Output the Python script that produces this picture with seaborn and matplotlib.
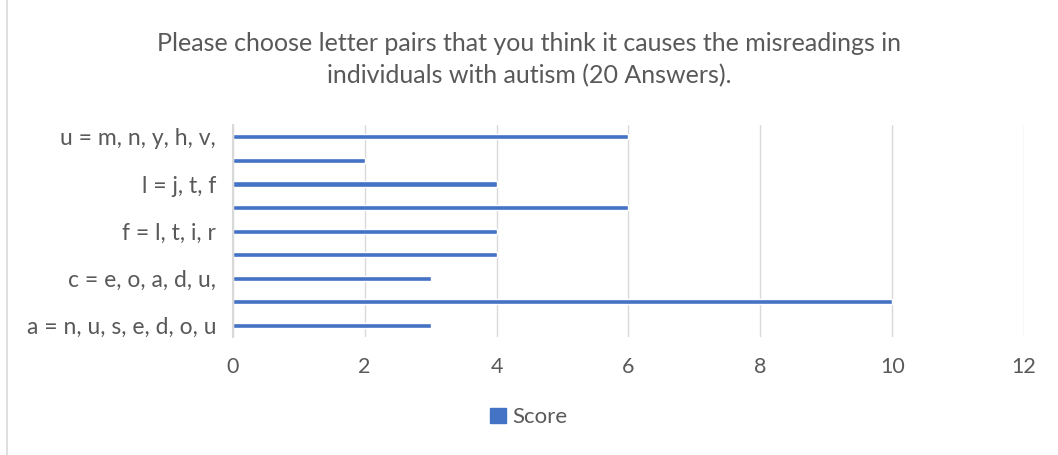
import pandas as pd
import matplotlib.pyplot as plt
import seaborn as sns
from matplotlib.patches import Rectangle, Patch

# Datos (de arriba hacia abajo)
categorias = ['u = m, n, y, h, v,', 'q = p, g, d, b', 'l = j, t, f', 'i = l, j, t',
              'f = l, t, i, r', 'e = c, o, a', 'c = e, o, a, d, u,', 'b = d, p, q, h',
              'a = n, u, s, e, d, o, u']
puntajes = [6, 2, 4, 6, 4, 4, 3, 10, 3]
ticks_x = [0, 2, 4, 6, 8, 10, 12]

TITULO = 'Please choose letter pairs that you think it causes the misreadings in\nindividuals with autism (20 Answers).'
COLOR_BARRA = '#4472C4'
COLOR_TEXTO = '#595959'
COLOR_GRID = '#D9D9D9'

sns.set_theme(style='white')
plt.rcParams['font.family'] = ['Lato', 'DejaVu Sans']

df = pd.DataFrame({'categoria': categorias, 'puntaje': puntajes})

fig = plt.figure(figsize=(10.58, 4.55), dpi=100)
ax = fig.add_axes([0.220, 0.259, 0.748, 0.466])

sns.barplot(data=df, x='puntaje', y='categoria', orient='h', color=COLOR_BARRA,
            width=0.22, saturation=1, ax=ax)

ax.set_xlim(0, 12)
ax.set_xticks(ticks_x)
ax.set_xticklabels([str(t) for t in ticks_x], fontsize=15.5, color=COLOR_TEXTO)
ax.set_ylim(len(categorias) - 0.5, -0.5)
# Excel salta etiquetas: solo una de cada dos
ax.set_yticks(range(len(categorias)))
ax.set_yticklabels([c if i % 2 == 0 else '' for i, c in enumerate(categorias)],
                   fontsize=16.5, color=COLOR_TEXTO)
ax.tick_params(axis='both', length=0)
ax.tick_params(axis='x', pad=14)
ax.tick_params(axis='y', pad=12)
ax.set_xlabel('')
ax.set_ylabel('')

ax.grid(axis='x', color=COLOR_GRID, linewidth=1)
ax.set_axisbelow(True)
for s in ['top', 'right', 'bottom']:
    ax.spines[s].set_visible(False)
ax.spines['left'].set_color(COLOR_GRID)
ax.spines['left'].set_linewidth(1.5)

fig.text(0.5, 0.93, TITULO, fontsize=18, color=COLOR_TEXTO, ha='center', va='top',
         linespacing=1.45)

fig.legend(handles=[Patch(color=COLOR_BARRA, label='Score')], loc='center',
           bbox_to_anchor=(0.5, 0.083), frameon=False, fontsize=16,
           handlelength=0.7, handleheight=0.7, handletextpad=0.3,
           labelcolor=COLOR_TEXTO)

# Borde del gráfico
fig.patches.append(Rectangle((0.007, -0.01), 1.5, 1.5, transform=fig.transFigure,
                             fill=False, edgecolor=COLOR_GRID, linewidth=1.2))

plt.savefig('out.png', dpi=100)
